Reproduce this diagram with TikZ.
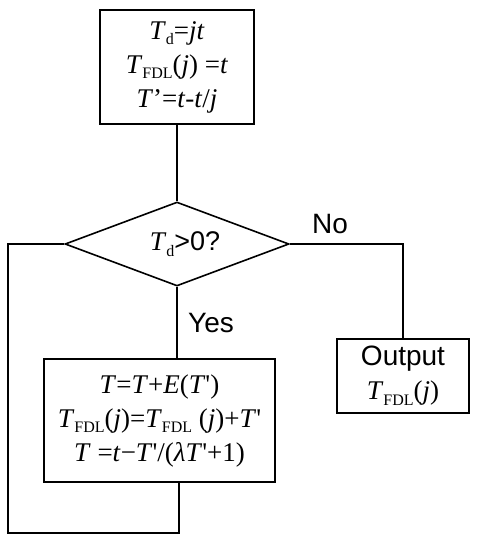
\documentclass[tikz,border=0pt]{standalone}
\usepackage{fontspec}
\setmainfont{Liberation Serif}
\setsansfont{Liberation Sans}
\usetikzlibrary{shapes.geometric}
\newcommand\lsub[1]{\raisebox{-0.45ex}{\fontsize{16}{16}\selectfont #1}}
\newcommand\ti[1]{\textit{#1}}
\newcommand\pr{\textquotesingle}
\begin{document}
\begin{tikzpicture}[x=1pt,y=-1pt,
  box/.style={draw,line width=1.6pt,inner sep=0pt,align=center,font=\fontsize{27}{34}\selectfont},
  conn/.style={line width=1.6pt},
  lbl/.style={font=\sffamily\fontsize{28}{28}\selectfont,inner sep=0pt}]
\useasboundingbox (0,0) rectangle (481,542);
\node[box,minimum width=154pt,minimum height=114pt] (top) at (177,67)
  {\ti{T}\lsub{d}=\ti{jt}\\ \ti{T}\lsub{FDL}(\ti{j}) =\ti{t}\\ \ti{T}’=\ti{t}-\ti{t}/\ti{j}};
\node[draw,line width=1.6pt,shape=diamond,minimum width=224pt,minimum height=84pt,aspect=2.667,inner sep=0pt,font=\fontsize{27}{27}\selectfont] (dia) at (177,244)
  {\hspace*{16pt}\ti{T}\lsub{d}{\sffamily >0?}};
\node[box,minimum width=231pt,minimum height=123pt] (calc) at (159.5,420.5)
  {\ti{T}=\ti{T}+\ti{E}(\ti{T}\pr)\\ \ti{T}\lsub{FDL}(\ti{j})=\ti{T}\lsub{FDL} (\ti{j})+\ti{T}\pr\\ \ti{T} =\ti{t}−\ti{T}\pr/(\ti{λT}\pr+1)};
\node[box,minimum width=132pt,minimum height=74pt] (out) at (403,376)
  {{\sffamily\fontsize{28}{28}\selectfont Output}\\ \ti{T}\lsub{FDL}(\ti{j})};
\node[lbl] (no) at (330,224) {No};
\node[lbl] (yes) at (211,323) {Yes};
\coordinate (loopA) at (8,533);
\draw[conn] (top.south) -- (dia.north);
\draw[conn] (dia.south) -- (dia.south |- calc.north);
\draw[conn] (dia.east) -| (out.north);
\draw[conn] (dia.west) -| (loopA) -| ([xshift=2pt]dia.south |- calc.south);
\end{tikzpicture}
\end{document}
